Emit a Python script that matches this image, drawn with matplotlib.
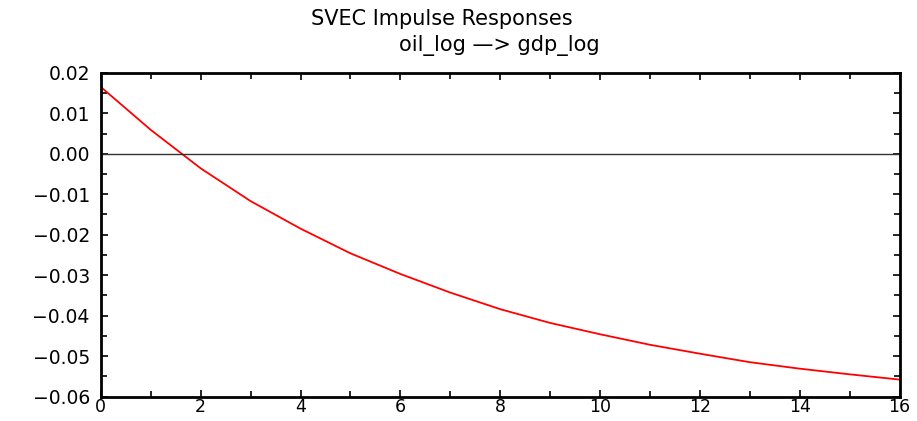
import matplotlib
matplotlib.use("Agg")
import matplotlib.pyplot as plt
from matplotlib.ticker import MultipleLocator, FuncFormatter

horizon = list(range(17))
response = [0.0165, 0.0059, -0.0036, -0.0117, -0.0185, -0.0246, -0.0297, -0.0343,
            -0.0384, -0.0418, -0.0446, -0.0472, -0.0494, -0.0515, -0.0531, -0.0545, -0.0558]
title = "SVEC Impulse Responses"
subtitle = "oil_log \u2014> gdp_log"

plt.rcParams['font.family'] = ['DejaVu Sans']
fig = plt.figure(figsize=(9.17, 4.21), dpi=100)
ax = fig.add_axes([0.110, 0.058, 0.871, 0.769])

ax.plot(horizon, response, color='red', lw=1.3)
ax.axhline(0, color='#333333', lw=1.0)

ax.set_xlim(0, 16)
ax.set_ylim(-0.06, 0.02)
ax.xaxis.set_major_locator(MultipleLocator(2))
ax.xaxis.set_minor_locator(MultipleLocator(1))
ax.yaxis.set_major_locator(MultipleLocator(0.01))
ax.yaxis.set_minor_locator(MultipleLocator(0.005))
ax.yaxis.set_major_formatter(FuncFormatter(lambda v, p: f"{v:.2f}".replace('-', '\u2212')))
ax.xaxis.set_major_formatter(FuncFormatter(lambda v, p: f"{int(round(v))}"))

for side in ['left', 'bottom', 'right', 'top']:
    ax.spines[side].set_linewidth(2.0)
ax.tick_params(which='both', direction='in', top=True, right=True, width=1.2)
ax.tick_params(axis='y', labelsize=13.5, pad=8)
ax.tick_params(axis='x', labelsize=12.5, pad=1)
ax.tick_params(which='major', length=5)
ax.tick_params(which='minor', length=4)

fig.text(0.482, 0.955, title, ha='center', va='center', fontsize=15)
fig.text(0.545, 0.893, subtitle, ha='center', va='center', fontsize=15)

fig.savefig("out.png", dpi=100)
